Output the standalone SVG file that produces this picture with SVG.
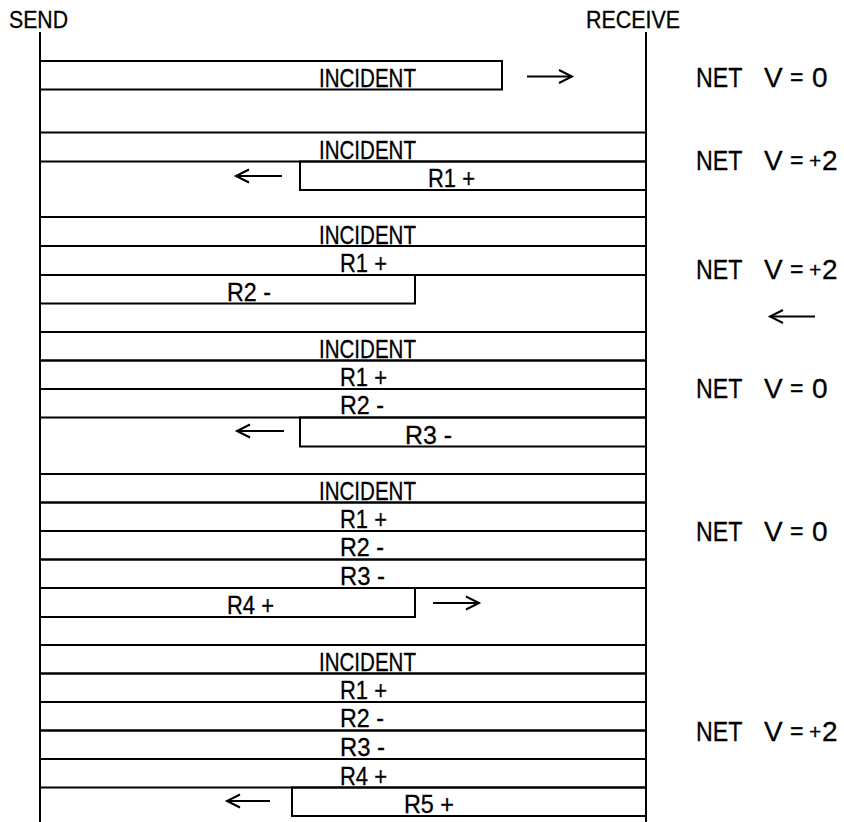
<svg xmlns="http://www.w3.org/2000/svg" width="844" height="822" viewBox="0 0 844 822">
<style>
  .b{fill:none;stroke:#000;stroke-width:2}
  .ln{stroke:#000;stroke-width:2;fill:none}
  text{font-family:"Liberation Sans",Arial,sans-serif;fill:#000;stroke:#000;stroke-width:0.3}
  .t{font-size:25px}
  .h{font-size:23px}
  .n{font-size:28px}
  .p{font-size:21px}
  .e{font-size:23px}
</style>
<defs>
  <marker id="ah" markerUnits="userSpaceOnUse" markerWidth="18" markerHeight="18" refX="15" refY="8" orient="auto">
    <path d="M2,1.5 L15,8 L2,14.5" fill="none" stroke="#000" stroke-width="2"/>
  </marker>
</defs>
<rect width="844" height="822" fill="#fff"/>
<g id="headers">
  <text class="h" x="9" y="28" textLength="59" lengthAdjust="spacingAndGlyphs">SEND</text>
  <text class="h" x="586" y="28" textLength="94" lengthAdjust="spacingAndGlyphs">RECEIVE</text>
</g>
<g id="rails">
  <line class="ln" x1="40" y1="32" x2="40" y2="822"/>
  <line class="ln" x1="646" y1="32" x2="646" y2="822"/>
</g>
<g id="step1">
  <rect class="b" x="40" y="61" width="462" height="28.5"/>
  <text class="t" x="319" y="87" textLength="97" lengthAdjust="spacingAndGlyphs">INCIDENT</text>
  <text class="n" x="696" y="87"><tspan textLength="46" lengthAdjust="spacingAndGlyphs">NET</tspan> <tspan x="764">V</tspan> <tspan class="e" x="790" dy="-2">=</tspan> <tspan x="812" dy="2">0</tspan></text>
</g>
<g id="step2">
  <rect class="b" x="40" y="132.5" width="606" height="29"/>
  <rect class="b" x="300" y="161.5" width="346" height="28.5"/>
  <text class="t" x="319" y="159" textLength="97" lengthAdjust="spacingAndGlyphs">INCIDENT</text>
  <text class="t" x="428" y="187" textLength="47" lengthAdjust="spacingAndGlyphs">R1 +</text>
  <text class="n" x="696" y="170"><tspan textLength="46" lengthAdjust="spacingAndGlyphs">NET</tspan> <tspan x="764">V</tspan> <tspan class="e" x="790" dy="-2">=</tspan> <tspan class="p" x="809">+</tspan><tspan x="822" dy="2">2</tspan></text>
</g>
<g id="step3">
  <rect class="b" x="40" y="217" width="606" height="29"/>
  <rect class="b" x="40" y="246" width="606" height="29"/>
  <rect class="b" x="40" y="275" width="375" height="28.5"/>
  <text class="t" x="319" y="243.5" textLength="97" lengthAdjust="spacingAndGlyphs">INCIDENT</text>
  <text class="t" x="340" y="272" textLength="47" lengthAdjust="spacingAndGlyphs">R1 +</text>
  <text class="t" x="227" y="300.5" textLength="44" lengthAdjust="spacingAndGlyphs">R2 -</text>
  <text class="n" x="696" y="279"><tspan textLength="46" lengthAdjust="spacingAndGlyphs">NET</tspan> <tspan x="764">V</tspan> <tspan class="e" x="790" dy="-2">=</tspan> <tspan class="p" x="809">+</tspan><tspan x="822" dy="2">2</tspan></text>
</g>
<g id="step4">
  <rect class="b" x="40" y="332" width="606" height="28.5"/>
  <rect class="b" x="40" y="360.5" width="606" height="28.5"/>
  <rect class="b" x="40" y="389" width="606" height="28.5"/>
  <rect class="b" x="300" y="417.5" width="346" height="29"/>
  <text class="t" x="319" y="357.5" textLength="97" lengthAdjust="spacingAndGlyphs">INCIDENT</text>
  <text class="t" x="340" y="386" textLength="47" lengthAdjust="spacingAndGlyphs">R1 +</text>
  <text class="t" x="340" y="414" textLength="44" lengthAdjust="spacingAndGlyphs">R2 -</text>
  <text class="t" x="405" y="443.5" textLength="47" lengthAdjust="spacingAndGlyphs">R3 -</text>
  <text class="n" x="696" y="398"><tspan textLength="46" lengthAdjust="spacingAndGlyphs">NET</tspan> <tspan x="764">V</tspan> <tspan class="e" x="790" dy="-2">=</tspan> <tspan x="812" dy="2">0</tspan></text>
</g>
<g id="step5">
  <rect class="b" x="40" y="474" width="606" height="28.5"/>
  <rect class="b" x="40" y="502.5" width="606" height="28.5"/>
  <rect class="b" x="40" y="531" width="606" height="28.5"/>
  <rect class="b" x="40" y="559.5" width="606" height="28.5"/>
  <rect class="b" x="40" y="588" width="375" height="29"/>
  <text class="t" x="319" y="499.5" textLength="97" lengthAdjust="spacingAndGlyphs">INCIDENT</text>
  <text class="t" x="340" y="528" textLength="47" lengthAdjust="spacingAndGlyphs">R1 +</text>
  <text class="t" x="340" y="556" textLength="44" lengthAdjust="spacingAndGlyphs">R2 -</text>
  <text class="t" x="340" y="585" textLength="45" lengthAdjust="spacingAndGlyphs">R3 -</text>
  <text class="t" x="227" y="614" textLength="47" lengthAdjust="spacingAndGlyphs">R4 +</text>
  <text class="n" x="696" y="541"><tspan textLength="46" lengthAdjust="spacingAndGlyphs">NET</tspan> <tspan x="764">V</tspan> <tspan class="e" x="790" dy="-2">=</tspan> <tspan x="812" dy="2">0</tspan></text>
</g>
<g id="step6">
  <rect class="b" x="40" y="645" width="606" height="28.5"/>
  <rect class="b" x="40" y="673.5" width="606" height="28.5"/>
  <rect class="b" x="40" y="702" width="606" height="28.5"/>
  <rect class="b" x="40" y="730.5" width="606" height="28.5"/>
  <rect class="b" x="40" y="759" width="606" height="28.5"/>
  <rect class="b" x="292" y="787.5" width="354" height="28.5"/>
  <text class="t" x="319" y="670.5" textLength="97" lengthAdjust="spacingAndGlyphs">INCIDENT</text>
  <text class="t" x="340" y="699" textLength="47" lengthAdjust="spacingAndGlyphs">R1 +</text>
  <text class="t" x="340" y="727" textLength="44" lengthAdjust="spacingAndGlyphs">R2 -</text>
  <text class="t" x="340" y="756" textLength="45" lengthAdjust="spacingAndGlyphs">R3 -</text>
  <text class="t" x="340" y="784.5" textLength="47" lengthAdjust="spacingAndGlyphs">R4 +</text>
  <text class="t" x="404" y="813" textLength="50" lengthAdjust="spacingAndGlyphs">R5 +</text>
  <text class="n" x="696" y="741"><tspan textLength="46" lengthAdjust="spacingAndGlyphs">NET</tspan> <tspan x="764">V</tspan> <tspan class="e" x="790" dy="-2">=</tspan> <tspan class="p" x="809">+</tspan><tspan x="822" dy="2">2</tspan></text>
</g>
<g id="connectors">
  <line class="ln" x1="527" y1="76.5" x2="572" y2="76.5" marker-end="url(#ah)"/>
  <line class="ln" x1="282" y1="176" x2="236" y2="176" marker-end="url(#ah)"/>
  <line class="ln" x1="815" y1="316.5" x2="770" y2="316.5" marker-end="url(#ah)"/>
  <line class="ln" x1="284" y1="431" x2="237" y2="431" marker-end="url(#ah)"/>
  <line class="ln" x1="433" y1="603" x2="479" y2="603" marker-end="url(#ah)"/>
  <line class="ln" x1="270" y1="801" x2="227" y2="801" marker-end="url(#ah)"/>
</g>
</svg>
